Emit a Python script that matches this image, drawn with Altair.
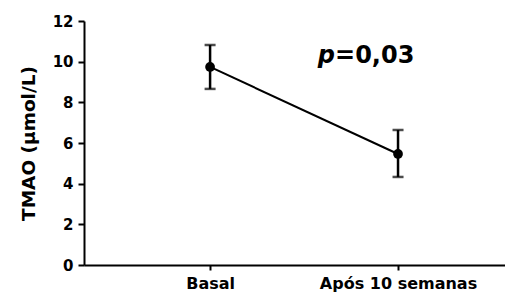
import altair as alt
import pandas as pd

categories = ["Basal", "Após 10 semanas"]
means = [9.74, 5.46]
upper = [10.82, 6.64]
lower = [8.66, 4.33]
y_ticks = [0, 2, 4, 6, 8, 10, 12]
p_label = "p"
p_value = "=0,03"
p_y = 9.95

df = pd.DataFrame({"cat": categories, "mean": means, "hi": upper, "lo": lower})
ann = pd.DataFrame({"cat": [categories[1]], "y": [p_y], "p": [p_label], "v": [p_value]})

FONT = "DejaVu Sans"

xscale = alt.Scale(type="point", padding=0.62, align=0.541)
x = alt.X("cat:N", sort=categories, scale=xscale,
          axis=alt.Axis(title=None, labelAngle=0, labelFont=FONT, labelFontSize=16,
                        labelFontWeight="bold", labelColor="black", labelPadding=5,
                        tickSize=5, tickWidth=2, tickColor="black",
                        domainWidth=2, domainColor="black", grid=False))
y = alt.Y("mean:Q", scale=alt.Scale(domain=[0, 12], nice=False, zero=True),
          axis=alt.Axis(title="TMAO (µmol/L)", values=y_ticks, labelFont=FONT,
                        labelFontSize=15, labelFontWeight="bold", labelColor="black",
                        labelPadding=5, tickSize=6, tickWidth=2, tickColor="black",
                        domainWidth=2, domainColor="black", grid=False,
                        titleFont=FONT, titleFontSize=18.5, titleFontWeight="bold",
                        titleColor="black", titlePadding=14))

base = alt.Chart(df)
line = base.mark_line(color="black", strokeWidth=2).encode(x=x, y=y)
pts = base.mark_point(filled=True, color="black", size=95, opacity=1).encode(x=x, y=y)
rule = base.mark_rule(color="black", strokeWidth=2.5).encode(x=x, y="lo:Q", y2="hi:Q")
cap_hi = base.mark_tick(color="black", orient="horizontal", size=11, thickness=2.5).encode(x=x, y="hi:Q")
cap_lo = base.mark_tick(color="black", orient="horizontal", size=11, thickness=2.5).encode(x=x, y="lo:Q")

ann_base = alt.Chart(ann)
xa = alt.X("cat:N", sort=categories, scale=xscale)
t_p = ann_base.mark_text(font=FONT, fontSize=24, fontWeight="bold", fontStyle="italic",
                         align="right", baseline="alphabetic", dx=-63, color="black").encode(
    x=xa, y="y:Q", text="p:N")
t_v = ann_base.mark_text(font=FONT, fontSize=24, fontWeight="bold",
                         align="left", baseline="alphabetic", dx=-63, color="black").encode(
    x=xa, y="y:Q", text="v:N")

chart = alt.layer(rule, cap_hi, cap_lo, line, pts, t_p, t_v).properties(
    width=421, height=244,
    autosize=alt.AutoSizeParams(type="none"),
    padding={"left": 76, "top": 13, "right": 0, "bottom": 28},
).configure_view(stroke=None)

chart.save("out.html", embed_options={"renderer": "svg", "actions": False})
